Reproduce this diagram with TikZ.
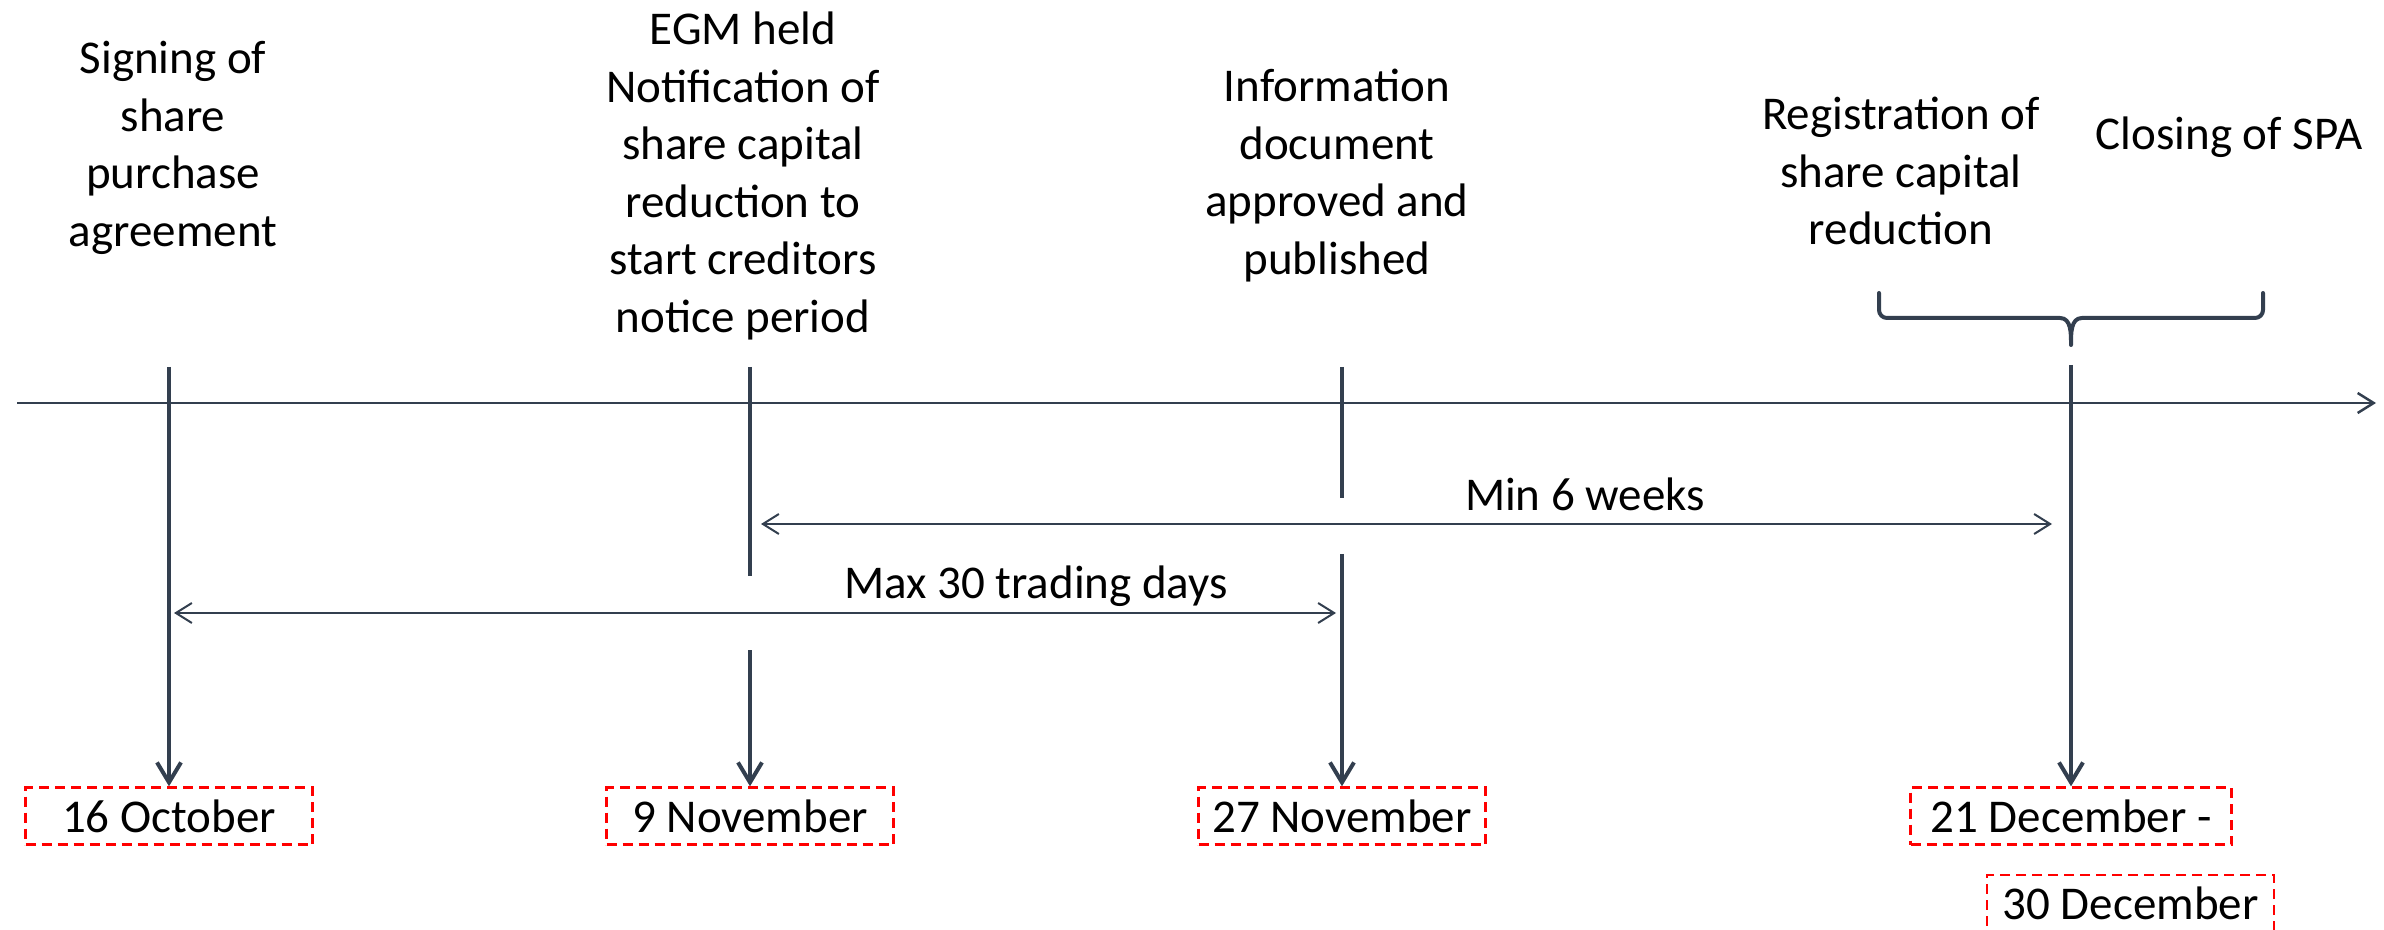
\documentclass[tikz,border=0pt]{standalone}
\usepackage{fontspec}
\setmainfont{Carlito}
\usetikzlibrary{arrows.meta}
\definecolor{slate}{HTML}{333F4F}
\definecolor{boxred}{HTML}{FF0000}
\begin{document}
\begin{tikzpicture}[x=0.5pt,y=-0.5pt,
  lbl/.style={font=\fontsize{23.5pt}{28.75pt}\selectfont, align=center, anchor=base, inner sep=0pt},
  datebox/.style={draw=boxred, line width=1.2pt, dash pattern=on 5pt off 3pt, minimum width=143.5pt, minimum height=28.5pt, inner sep=0pt, font=\fontsize{23.5pt}{28.75pt}\selectfont},
  tickline/.style={draw=slate, line width=2pt},
  tickarrow/.style={tickline, -{Straight Barb[length=10pt,width=12pt]}},
  spanarrow/.style={draw=slate, line width=1pt, {Straight Barb[length=8pt,width=10pt]}-{Straight Barb[length=8pt,width=10pt]}},
  axisline/.style={draw=slate, line width=1.25pt, -{Straight Barb[length=8pt,width=10pt]}},
  bracestyle/.style={draw=slate, line width=2pt, line join=round, line cap=round},
]
\useasboundingbox (0,0) rectangle (2384,930);

% labels (base anchor = baseline of last line)
\node[lbl] (sign) at (173,246.5) {Signing of\\share\\purchase\\agreement};
\node[lbl] (egm) at (743,332.5) {EGM held\\Notification of\\share capital\\reduction to\\start creditors\\notice period};
\node[lbl] (info) at (1337,274.5) {Information\\document\\approved and\\published};
\node[lbl] (reg) at (1901,245) {Registration of\\share capital\\reduction};
\node[lbl] (clos) at (2229,150) {Closing of SPA};
\node[lbl] (min6) at (1585,511) {Min 6 weeks};
\node[lbl] (max30) at (1036,598) {Max 30 trading days};

% date boxes
\node[datebox] (d1) at (169,816) {16 October};
\node[datebox] (d2) at (750,816) {9 November};
\node[datebox] (d3) at (1342,816) {27 November};
\node[datebox, minimum width=160.5pt] (d4) at (2071,816) {21 December -};
\node[datebox] (d5) at (2130.5,903.5) {30 December};

% axis
\coordinate (a0) at (17,403);
\coordinate (a1) at (2376,403);
\draw[axisline] (a0) -- (a1);

% ticks
\coordinate (t1) at (169,367);
\coordinate (t2) at (750,367);
\coordinate (t3) at (1342,367);
\coordinate (t4) at (2071,365);
\coordinate (g2a) at (750,576);
\coordinate (g2b) at (750,650);
\coordinate (g3a) at (1342,498);
\coordinate (g3b) at (1342,554);

\draw[tickarrow] (t1) -- (d1.north);
\draw[tickline] (t2) -- (g2a);
\draw[tickarrow] (g2b) -- (d2.north);
\draw[tickline] (t3) -- (g3a);
\draw[tickarrow] (g3b) -- (d3.north);
\draw[tickarrow] (t4) -- (d4.north);

% span arrows
\coordinate (m6a) at (761,524);
\coordinate (m6b) at (2052,524);
\coordinate (m30a) at (174,613);
\coordinate (m30b) at (1336,613);
\draw[spanarrow] (m6a) -- (m6b);
\draw[spanarrow] (m30a) -- (m30b);

% brace
\draw[bracestyle] (1879,293) -- (1879,310) to[out=-90,in=180] (1887,318) -- (2060,318)
  to[out=0,in=90] (2071,345) to[out=90,in=180] (2082,318) -- (2255,318)
  to[out=0,in=-90] (2263,310) -- (2263,293);
\end{tikzpicture}
\end{document}
